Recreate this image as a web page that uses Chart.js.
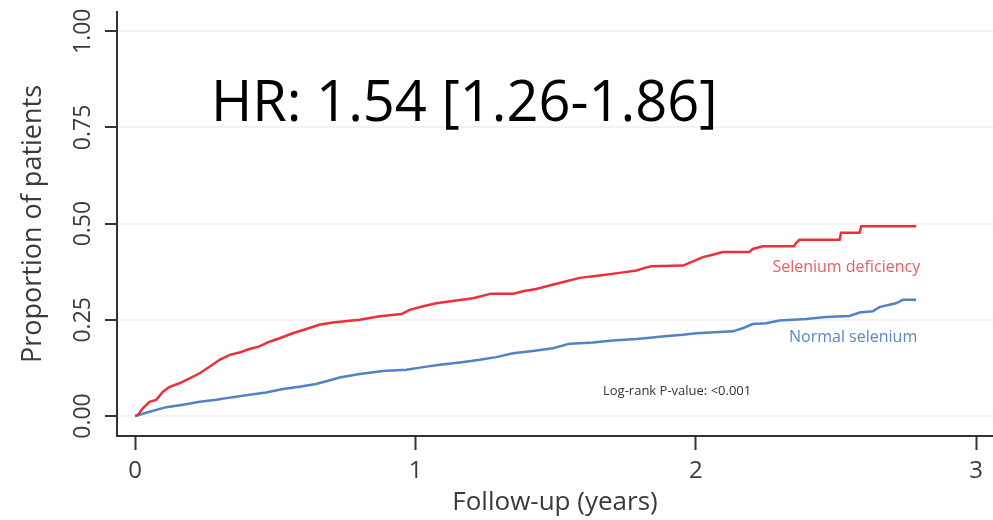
<!DOCTYPE html>
<html>
<head>
<meta charset="utf-8">
<script src="https://cdn.jsdelivr.net/npm/chart.js@4"></script>
<style>
  body { margin: 0; background: #fff; }
  canvas { display: block; }
</style>
</head>
<body>
<canvas id="km_chart" width="993" height="520"></canvas>
<script>
// cumulative incidence (flat parts keep both corner points)
const redX = [0, 0.01, 0.027, 0.051, 0.075, 0.099, 0.123, 0.158, 0.194, 0.23, 0.265, 0.301, 0.337, 0.372, 0.408, 0.443, 0.479, 0.515, 0.562, 0.61, 0.657, 0.705, 0.801, 0.872, 0.95, 0.979, 1.027, 1.074, 1.146, 1.205, 1.27, 1.35, 1.383, 1.431, 1.478, 1.538, 1.585, 1.657, 1.728, 1.788, 1.818, 1.841, 1.954, 1.99, 2.025, 2.06, 2.096, 2.19, 2.203, 2.239, 2.35, 2.358, 2.37, 2.513, 2.518, 2.584, 2.59, 2.786];
const redY = [0, 0.003, 0.02, 0.037, 0.042, 0.063, 0.076, 0.085, 0.098, 0.111, 0.128, 0.146, 0.159, 0.165, 0.174, 0.181, 0.193, 0.202, 0.215, 0.226, 0.237, 0.243, 0.25, 0.259, 0.265, 0.276, 0.285, 0.293, 0.3, 0.306, 0.318, 0.318, 0.324, 0.33, 0.339, 0.35, 0.359, 0.365, 0.372, 0.378, 0.385, 0.389, 0.391, 0.402, 0.413, 0.419, 0.426, 0.426, 0.434, 0.441, 0.441, 0.45, 0.458, 0.458, 0.476, 0.476, 0.493, 0.493];

const blueX = [0, 0.051, 0.111, 0.17, 0.23, 0.289, 0.348, 0.408, 0.467, 0.527, 0.586, 0.645, 0.705, 0.729, 0.801, 0.884, 0.967, 1.027, 1.086, 1.158, 1.229, 1.288, 1.348, 1.419, 1.49, 1.55, 1.633, 1.704, 1.788, 1.818, 1.889, 1.954, 2.001, 2.132, 2.167, 2.203, 2.251, 2.298, 2.393, 2.465, 2.548, 2.584, 2.631, 2.655, 2.69, 2.714, 2.738, 2.786];
const blueY = [0, 0.011, 0.023, 0.029, 0.037, 0.042, 0.049, 0.055, 0.061, 0.07, 0.076, 0.083, 0.095, 0.1, 0.109, 0.117, 0.12, 0.127, 0.133, 0.139, 0.146, 0.153, 0.163, 0.169, 0.176, 0.188, 0.191, 0.196, 0.2, 0.202, 0.207, 0.211, 0.215, 0.22, 0.228, 0.239, 0.241, 0.248, 0.252, 0.257, 0.26, 0.269, 0.272, 0.283, 0.289, 0.293, 0.302, 0.302];

const yTicks = [0, 0.25, 0.5, 0.75, 1];
const yTickLabels = ['0.00', '0.25', '0.50', '0.75', '1.00'];
const xTicks = [0, 1, 2, 3];

const seriesNames = ['Selenium deficiency', 'Normal selenium'];
const hrText = 'HR: 1.54 [1.26-1.86]';
const pText = 'Log-rank P-value: <0.001';

const redColor = '#ee2f3a';
const blueColor = '#5282c6';

function toPoints(xs, ys)
{
      return xs.map((x, i) => ({ x: x, y: ys[i] }));
}

// extra text: rotated y tick labels, HR, p-value, curve labels
const annotations = {
      id: 'annotations',
      afterDraw(chart)
      {
            const ctx = chart.ctx;
            const yScale = chart.scales.y;
            const xScale = chart.scales.x;
            ctx.save();

            ctx.fillStyle = '#3a3a3a';
            ctx.font = '23px "Open Sans"';
            ctx.textAlign = 'center';
            ctx.textBaseline = 'middle';
            for (let i = 0; i < yTicks.length; i++)
            {
                  const py = yScale.getPixelForValue(yTicks[i]);
                  ctx.save();
                  ctx.translate(83, py);
                  ctx.rotate(-Math.PI / 2);
                  ctx.fillText(yTickLabels[i], 0, 0);
                  ctx.restore();
            }

            ctx.textAlign = 'left';
            ctx.textBaseline = 'alphabetic';
            ctx.fillStyle = '#000';
            ctx.font = '56px "Open Sans"';
            ctx.fillText(hrText, 211, 121);

            ctx.fillStyle = '#333';
            ctx.font = '13px "Open Sans"';
            ctx.fillText(pText, 603, 395);

            ctx.font = '16px "Open Sans"';
            ctx.textAlign = 'right';
            ctx.fillStyle = '#f05a60';
            ctx.fillText(seriesNames[0], xScale.getPixelForValue(redX[redX.length - 1]) + 4, 272);
            ctx.fillStyle = '#5b87c8';
            ctx.fillText(seriesNames[1], xScale.getPixelForValue(blueX[blueX.length - 1]) + 1, 342);

            ctx.restore();
      }
};

const config = {
      type: 'line',
      data: {
            datasets: [{
                  label: seriesNames[0],
                  data: toPoints(redX, redY),
                  borderColor: redColor,
                  borderWidth: 2.5,
                  pointRadius: 0,
                  tension: 0,
                  fill: false
            }, {
                  label: seriesNames[1],
                  data: toPoints(blueX, blueY),
                  borderColor: blueColor,
                  borderWidth: 2.5,
                  pointRadius: 0,
                  tension: 0,
                  fill: false
            }]
      },
      options: {
            responsive: false,
            animation: false,
            layout: { padding: { top: 12, right: 0, left: 0, bottom: 0 } },
            scales: {
                  x: {
                        type: 'linear',
                        min: -0.065,
                        max: 3.06,
                        afterFit: function (scale) { scale.height = 84; },
                        afterBuildTicks: function (scale) { scale.ticks = xTicks.map(v => ({ value: v })); },
                        border: { color: '#333', width: 2 },
                        grid: {
                              drawOnChartArea: false,
                              tickLength: 14,
                              tickColor: '#333',
                              tickWidth: 2
                        },
                        ticks: {
                              color: '#3a3a3a',
                              font: { family: 'Open Sans', size: 24 },
                              padding: 7,
                              maxRotation: 0
                        },
                        title: {
                              display: true,
                              text: 'Follow-up (years)',
                              color: '#3a3a3a',
                              font: { family: 'Open Sans', size: 26 },
                              padding: { top: 0, bottom: 2 }
                        }
                  },
                  y: {
                        type: 'linear',
                        min: -0.052,
                        max: 1.05,
                        afterFit: function (scale) { scale.width = 117; },
                        afterBuildTicks: function (scale) { scale.ticks = yTicks.map(v => ({ value: v })); },
                        border: { color: '#333', width: 2 },
                        grid: {
                              color: '#f2f2f2',
                              lineWidth: 2,
                              tickLength: 12,
                              tickColor: '#333',
                              tickWidth: 2
                        },
                        ticks: { display: false },
                        title: {
                              display: true,
                              text: 'Proportion of patients',
                              color: '#3a3a3a',
                              font: { family: 'Open Sans', size: 27 },
                              padding: { top: 17, bottom: 0 }
                        }
                  }
            },
            plugins: {
                  legend: { display: false },
                  tooltip: { enabled: false }
            }
      },
      plugins: [annotations]
};

new Chart(document.getElementById('km_chart'), config);
</script>
</body>
</html>
